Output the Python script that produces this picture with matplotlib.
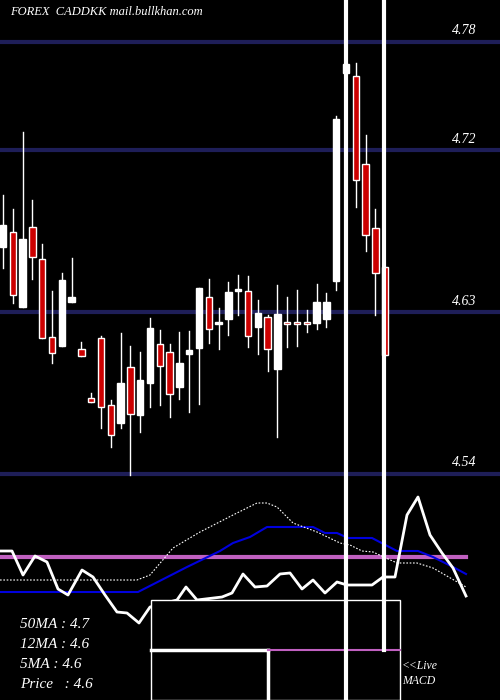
import matplotlib
matplotlib.use("Agg")
import matplotlib.pyplot as plt
from matplotlib.patches import Rectangle

opens  = [4.6661,4.6744,4.6328,4.6772,4.6594,4.6161,4.6111,4.6356,4.6094,4.5822,
          4.6156,4.5783,4.5683,4.5994,4.5728,4.5906,4.6122,4.6078,4.5883,4.6067,
          4.6100,4.6383,4.6233,4.6261,4.6417,4.6417,4.6217,4.6272,4.5983,4.6239,
          4.6239,4.6244,4.6239,4.6261,4.6472,4.7628,4.7611,4.7122,4.6767,4.6550]
closes = [4.6783,4.6394,4.6706,4.6606,4.6156,4.6072,4.6478,4.6383,4.6056,4.5800,
          4.5772,4.5617,4.5906,4.5733,4.5922,4.6211,4.6000,4.5844,4.6017,4.6089,
          4.6433,4.6206,4.6239,4.6411,4.6422,4.6167,4.6294,4.6094,4.6289,4.6233,
          4.6233,4.6233,4.6356,4.6356,4.7372,4.7678,4.7033,4.6728,4.6517,4.6061]
highs  = [4.6950,4.6872,4.7300,4.6922,4.6678,4.6417,4.6517,4.6600,4.6133,4.5850,
          4.6167,4.5811,4.6183,4.6111,4.6078,4.6267,4.6200,4.6122,4.6189,4.6194,
          4.6433,4.6483,4.6322,4.6467,4.6506,4.6500,4.6367,4.6283,4.6450,4.6383,
          4.6422,4.6311,4.6456,4.6406,4.7389,4.7800,4.7683,4.7283,4.6872,4.6550]
lows   = [4.6544,4.6350,4.6328,4.6483,4.6156,4.6017,4.6111,4.6356,4.6056,4.5800,
          4.5656,4.5550,4.5656,4.5394,4.5633,4.5772,4.5783,4.5717,4.5817,4.5744,
          4.5789,4.6128,4.6094,4.6172,4.6283,4.6106,4.6067,4.5972,4.5606,4.6106,
          4.6111,4.6189,4.6206,4.6217,4.6422,4.7161,4.6883,4.6639,4.6283,4.6061]
price_levels = [4.78, 4.72, 4.63, 4.54]
level_labels = ["4.78", "4.72", "4.63", "4.54"]

# indicator panel (pixel coordinates of the panel)
blue_x = [0,138,187,220,233,250,267,313,325,337,348,372,397,418,433,453,466]
blue_y = [592,592,567,551,543,537,527,527,533,533,538,538,551,551,557,567,574]
dot_x = [0,137,150,173,200,233,257,267,277,293,317,340,350,362,373,397,417,433,466]
dot_y = [580,580,575,548,532,515,503,503,507,523,532,543,545,551,552,563,563,568,587]
macd_x = [0,12,23,35,47,58,68,82,93,105,117,127,139,150,177,186,197,222,232,243,255,
          267,280,290,302,313,325,337,347,372,383,395,407,418,430,442,453,466]
macd_y = [551,551,575,556,562,589,595,570,577,595,612,613,623,607,600,587,600,597,593,
          574,587,586,574,573,589,580,593,582,585,585,577,577,515,497,535,553,568,596]
ma_labels = ["50MA : 4.7", "12MA : 4.6", "5MA : 4.6", "Price   : 4.6"]

fig = plt.figure(figsize=(5, 7), dpi=100, facecolor="black")

ax = fig.add_axes([0, 220/700, 1, 480/700])
ax.set_facecolor("black")
ax.set_xlim(-3/9.8, 497/9.8)
ax.set_ylim(4.78 - 438/1800, 4.78 + 42/1800)
ax.axis("off")
for lv in price_levels:
    ax.axhline(lv, color="#1e1e58", lw=3, zorder=0)
for lv, lb in zip(price_levels, level_labels):
    ax.text(473/9.8, lv + 0.0025, lb, color="white", fontsize=10, family="Liberation Serif",
            style="italic", ha="right", va="bottom")
w = 0.65
for i, (o, c, h, l) in enumerate(zip(opens, closes, highs, lows)):
    up = c >= o
    ax.plot([i, i], [l, h], color="white", lw=1, zorder=2)
    b = min(o, c)
    ht = max(abs(c - o), 0.0012)
    ax.add_patch(Rectangle((i - w/2, b), w, ht, facecolor="white" if up else "#cc0000",
                           edgecolor="white", lw=1, zorder=3))

ov = fig.add_axes([0, 0, 1, 1])
ov.patch.set_alpha(0)
ov.set_xlim(0, 500)
ov.set_ylim(700, 0)
ov.axis("off")
ov.text(10, 12, "FOREX  CADDKK mail.bullkhan.com", color="white", fontsize=9,
        family="Liberation Serif", style="italic", va="center")
ov.plot([0, 466], [556.7, 556.7], color="#c060c0", lw=3)
ov.plot(blue_x, blue_y, color="#0000dd", lw=1.5)
ov.plot(dot_x, dot_y, color="white", lw=0.8, ls=(0, (1.5, 1.5)))
ov.plot(macd_x, macd_y, color="white", lw=2)
ov.add_patch(Rectangle((151, 600), 249, 100, facecolor="black", edgecolor="white", lw=1, zorder=5))
ov.plot([151, 268], [650, 650], color="white", lw=2.5, zorder=6)
ov.plot([268, 268], [650, 700], color="white", lw=2.5, zorder=6)
ov.plot([268, 400], [650, 650], color="#c060c0", lw=1.5, zorder=6)
ov.plot([346, 346], [0, 700], color="white", lw=3, zorder=7)
ov.plot([384, 384], [0, 650], color="white", lw=3, zorder=7)
for k, t in enumerate(ma_labels):
    ov.text(20, 625 + 20*k, t, color="white", fontsize=11, family="Liberation Serif",
            style="italic", va="center")
ov.text(402, 666, "<<Live", color="white", fontsize=8.5, family="Liberation Serif", style="italic", va="center")
ov.text(402, 681, "MACD", color="white", fontsize=8.5, family="Liberation Serif", style="italic", va="center")

fig.savefig("out.png", dpi=100, facecolor="black")
